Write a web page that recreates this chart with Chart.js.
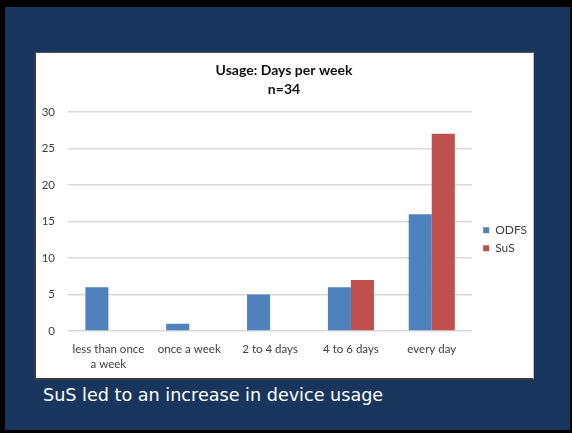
<!DOCTYPE html>
<html>
<head>
<meta charset="utf-8">
<script src="https://cdn.jsdelivr.net/npm/chart.js@4"></script>
<style>
  html, body { margin: 0; padding: 0; background: #000; }
  #frame { position: relative; width: 572px; height: 433px; background: #000; overflow: hidden; }
  #navy { position: absolute; left: 5px; top: 7px; width: 565px; height: 423px; background: #18365d; }
  #panel { position: absolute; left: 34px; top: 52px; width: 497px; height: 325px; background: #fff;
           border-left: 2px solid #3a3a3a; border-bottom: 2px solid #3a3a3a; border-top: 1px solid #555; border-right: 1px solid #bbb; }
  #panel canvas { position: absolute; left: 0; top: 0; }
  #caption { position: absolute; left: 43px; top: 384px; color: #fff; font-family: "DejaVu Sans", sans-serif;
             font-size: 17.6px; line-height: 22px; white-space: nowrap; }
</style>
</head>
<body>
<div id="frame">
  <div id="navy"></div>
  <div id="panel"><canvas id="c" width="497" height="325"></canvas></div>
  <div id="caption">SuS led to an increase in device usage</div>
</div>
<script>
const titleLines = ["Usage: Days per week", "n=34"];
const categories = [["less than once", "a week"], "once a week", "2 to 4 days", "4 to 6 days", "every day"];
const odfsValues = [6, 1, 5, 6, 16];
const susValues = [0, 0, 0, 7, 27];
const seriesNames = ["ODFS", "SuS"];
const yMin = 0, yMax = 30, yStep = 5;

const FONT = "Lato, 'Liberation Sans', sans-serif";

const legendShift = {
  id: 'legendShift',
  afterLayout(chart) {
    if (chart.legend) { chart.legend.left += 5; chart.legend.right += 5; }
  }
};

new Chart(document.getElementById('c'), {
  type: 'bar',
  data: {
    labels: categories,
    datasets: [
      { label: seriesNames[0], data: odfsValues, backgroundColor: '#4F81BD', categoryPercentage: 0.57, barPercentage: 1.0 },
      { label: seriesNames[1], data: susValues, backgroundColor: '#C0504D', categoryPercentage: 0.57, barPercentage: 1.0 }
    ]
  },
  plugins: [legendShift],
  options: {
    responsive: false,
    animation: false,
    devicePixelRatio: 1,
    layout: { padding: { left: 0, right: 1, top: 0, bottom: -5 } },
    plugins: {
      title: {
        display: true,
        text: titleLines,
        color: '#111',
        font: { family: FONT, size: 14, weight: 'bold', lineHeight: 1.35 },
        padding: { top: 8, bottom: 13 }
      },
      legend: {
        position: 'right',
        fullSize: false,
        align: 'center',
        title: { display: true, text: ' ', font: { size: 12, lineHeight: 1.2 }, padding: { top: 21, bottom: 0 } },
        labels: {
          boxWidth: 6, boxHeight: 6, padding: 6,
          color: '#404040',
          font: { family: FONT, size: 12 }
        }
      },
      tooltip: { enabled: false }
    },
    scales: {
      x: {
        grid: { display: false, drawTicks: false },
        border: { display: false },
        ticks: { color: '#404040', font: { family: FONT, size: 11.5, lineHeight: 1.3 }, padding: 11, maxRotation: 0, autoSkip: false }
      },
      y: {
        min: yMin, max: yMax,
        afterFit(scale) { scale.width = 32; },
        grid: { color: '#d9d9d9', lineWidth: 1.5, drawTicks: false },
        border: { display: false },
        ticks: { stepSize: yStep, color: '#404040', font: { family: FONT, size: 11.5 }, padding: 13 }
      }
    }
  }
});
</script>
</body>
</html>
